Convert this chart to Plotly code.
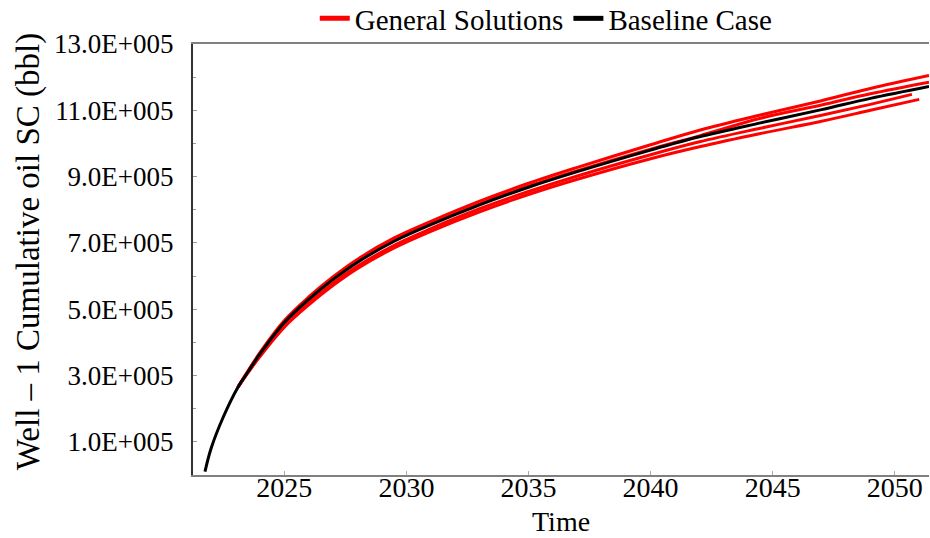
import plotly.graph_objects as go

# Baseline case (years, cumulative oil in bbl)
base_years = [2021.75, 2022.0, 2022.5, 2023.1, 2023.5, 2024.0, 2025.0, 2026.0, 2027.0, 2028.0,
              2029.5, 2031.0, 2033.0, 2035.0, 2037.0, 2040.0, 2042.0, 2044.5, 2047.0, 2049.0, 2051.4]
base_vals = [0.10e5, 0.80e5, 1.75e5, 2.65e5, 3.10e5, 3.65e5, 4.60e5, 5.30e5, 5.90e5, 6.42e5,
             7.05e5, 7.55e5, 8.15e5, 8.68e5, 9.15e5, 9.80e5, 10.20e5, 10.62e5, 11.02e5, 11.36e5, 11.72e5]

# General solutions (red)
red_years_a = [2023.1, 2024, 2025, 2026, 2027, 2028, 2029.5, 2031, 2033, 2035, 2037, 2040, 2042, 2044.5, 2047, 2049, 2051.4]
red_vals_a = [2.65e5, 3.69e5, 4.66e5, 5.37e5, 5.98e5, 6.51e5, 7.15e5, 7.65e5, 8.26e5, 8.80e5, 9.28e5,
              9.96e5, 10.40e5, 10.86e5, 11.29e5, 11.66e5, 12.05e5]
red_years_b = [2023.1, 2024, 2025, 2026, 2027, 2028, 2029.5, 2031, 2033, 2035, 2037, 2040, 2042, 2044.5, 2047, 2049, 2051.4]
red_vals_b = [2.65e5, 3.66e5, 4.62e5, 5.32e5, 5.93e5, 6.45e5, 7.08e5, 7.58e5, 8.18e5, 8.71e5, 9.18e5,
              9.83e5, 10.23e5, 10.76e5, 11.16e5, 11.50e5, 11.85e5]
red_years_c = [2023.1, 2024, 2025, 2026, 2027, 2028, 2029.5, 2031, 2033, 2035, 2037, 2040, 2042, 2044.5, 2047, 2049, 2050.7]
red_vals_c = [2.65e5, 3.60e5, 4.52e5, 5.20e5, 5.79e5, 6.30e5, 6.93e5, 7.43e5, 8.03e5, 8.55e5, 9.02e5,
              9.66e5, 10.05e5, 10.46e5, 10.85e5, 11.18e5, 11.48e5]
red_years_d = [2023.1, 2024, 2025, 2026, 2027, 2028, 2029.5, 2031, 2033, 2035, 2037, 2040, 2042, 2044.5, 2047, 2049, 2051.0]
red_vals_d = [2.65e5, 3.57e5, 4.46e5, 5.13e5, 5.72e5, 6.23e5, 6.85e5, 7.35e5, 7.94e5, 8.46e5, 8.92e5,
              9.54e5, 9.90e5, 10.30e5, 10.67e5, 11.00e5, 11.33e5]

y_tickvals = [1e5, 3e5, 5e5, 7e5, 9e5, 11e5, 13e5]
y_ticktext = ["1.0E+005", "3.0E+005", "5.0E+005", "7.0E+005", "9.0E+005", "11.0E+005", "13.0E+005"]
x_tickvals = [2025, 2030, 2035, 2040, 2045, 2050]

FONT = "Liberation Serif"

fig = go.Figure()
reds = [(red_years_a, red_vals_a), (red_years_b, red_vals_b), (red_years_c, red_vals_c), (red_years_d, red_vals_d)]
for i, (xs, ys) in enumerate(reds):
    fig.add_trace(go.Scatter(x=xs, y=ys, mode="lines", line=dict(color="#ff0000", width=3, shape="spline"),
                             name="General Solutions", legendgroup="gs", showlegend=(i == 0)))
fig.add_trace(go.Scatter(x=base_years, y=base_vals, mode="lines",
                         line=dict(color="#000000", width=3, shape="spline"), name="Baseline Case"))

fig.update_layout(
    width=930, height=538,
    margin=dict(l=193, r=1, t=44, b=63, autoexpand=False),
    paper_bgcolor="white", plot_bgcolor="white",
    font=dict(family=FONT, color="black", size=26),
    legend=dict(orientation="h", x=0.48, xanchor="center", y=1.0, yanchor="bottom",
                font=dict(size=29, family=FONT), bgcolor="rgba(0,0,0,0)",
                tracegroupgap=0, itemsizing="constant"),
    showlegend=True,
    annotations=[
        dict(text="Well – 1 Cumulative oil SC (bbl)", textangle=-90, xref="paper", yref="paper",
             x=(28 - 193) / 736, y=0.517, xanchor="center", yanchor="middle", showarrow=False,
             font=dict(size=33, family=FONT, color="black")),
        dict(text="Time", xref="paper", yref="paper", x=0.5, y=(475 - 521) / 431,
             xanchor="center", yanchor="middle", showarrow=False,
             font=dict(size=28, family=FONT, color="black")),
    ],
)
fig.update_xaxes(range=[2021.26, 2051.4], tickvals=x_tickvals, showgrid=False, zeroline=False,
                 showline=True, linecolor="#808080", linewidth=2, mirror=True,
                 ticks="inside", ticklen=4, tickcolor="#aaaaaa",
                 tickfont=dict(size=28, family=FONT), ticklabelstandoff=-14)
fig.update_yaxes(range=[0, 13e5], tickvals=y_tickvals, ticktext=y_ticktext, showgrid=False, zeroline=False,
                 showline=True, linecolor="#333333", linewidth=2,
                 ticks="inside", ticklen=4, tickcolor="#999999",
                 minor=dict(dtick=1e5, tick0=0, ticks="inside", ticklen=3, tickcolor="#999999"),
                 tickfont=dict(size=27, family=FONT), ticklabelstandoff=12)

fig.write_html("out.html")
